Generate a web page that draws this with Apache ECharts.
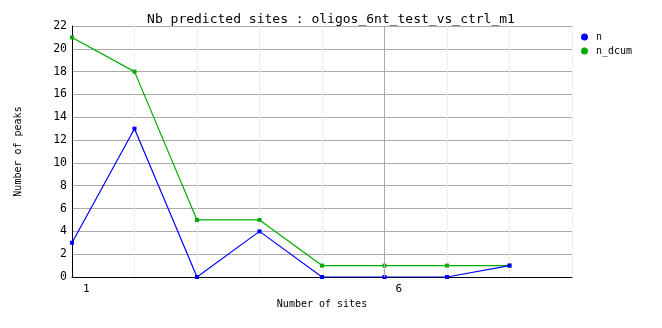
<!DOCTYPE html>
<html><head><meta charset="utf-8">
<script src="https://cdn.jsdelivr.net/npm/echarts@6/dist/echarts.min.js"></script>
<style>html,body{margin:0;padding:0;background:#fff}#c{width:662px;height:328px}</style>
</head><body><div id="c"></div>
<script>
const titleText = 'Nb predicted sites : oligos_6nt_test_vs_ctrl_m1';
const xValues = [1, 2, 3, 4, 5, 6, 7, 8];
const nValues = [3, 13, 0, 4, 0, 0, 0, 1];
const nDcumValues = [21, 18, 5, 5, 1, 1, 1, 1];
const xTickLabels = [1, 6];
const seriesNames = ['n', 'n_dcum'];

const font = 'DejaVu Sans Mono';
const chart = echarts.init(document.getElementById('c'), null, {renderer: 'canvas'});
chart.setOption({
  animation: false,
  backgroundColor: '#fff',
  title: {
    text: titleText, left: 'center', top: 8,
    textStyle: {fontFamily: font, fontSize: 13, fontWeight: 'normal', color: '#000'}
  },
  legend: {
    orient: 'vertical', left: 576, top: 26, itemGap: 2,
    itemWidth: 7, itemHeight: 7, icon: 'circle',
    textStyle: {fontFamily: font, fontSize: 10, color: '#000', padding: [0, 0, 0, 3], lineHeight: 12},
    data: seriesNames
  },
  grid: {left: 72, right: 90, top: 26, bottom: 51, containLabel: false},
  xAxis: {
    type: 'value', min: 1, max: 9, interval: 1,
    name: 'Number of sites', nameLocation: 'middle', nameGap: 21,
    nameTextStyle: {fontFamily: font, fontSize: 10, color: '#000'},
    axisLine: {show: true, onZero: false, lineStyle: {color: '#000', width: 1}},
    axisTick: {show: false},
    axisLabel: {
      fontFamily: font, fontSize: 11, color: '#000', margin: 7,
      align: 'left', padding: [0, 0, 0, 11],
      formatter: v => xTickLabels.includes(v) ? String(v) : ''
    },
    splitLine: {show: true, lineStyle: {color: '#eeeeee', width: 1}}
  },
  yAxis: {
    type: 'value', min: 0, max: 22, interval: 2,
    name: 'Number of peaks', nameLocation: 'middle', nameGap: 49, nameRotate: 90,
    nameTextStyle: {fontFamily: font, fontSize: 10, color: '#000'},
    axisLine: {show: true, lineStyle: {color: '#000', width: 1}},
    axisTick: {show: false},
    axisLabel: {fontFamily: font, fontSize: 11.5, color: '#000', margin: 5},
    splitLine: {show: true, lineStyle: {color: '#aaaaaa', width: 1}}
  },
  series: [
    {
      name: seriesNames[0], type: 'line', symbol: 'rect', symbolSize: 4,
      data: xValues.map((x, i) => [x, nValues[i]]),
      lineStyle: {color: '#0000ff', width: 1.2}, itemStyle: {color: '#0000ff'},
      z: 3,
      markLine: {
        silent: true, symbol: 'none', label: {show: false},
        lineStyle: {color: '#aaaaaa', width: 1, type: 'solid'},
        data: [{xAxis: 6}]
      }
    },
    {
      name: seriesNames[1], type: 'line', symbol: 'rect', symbolSize: 4,
      data: xValues.map((x, i) => [x, nDcumValues[i]]),
      lineStyle: {color: '#00aa00', width: 1.2}, itemStyle: {color: '#00aa00'},
      z: 2
    }
  ]
});
</script></body></html>
